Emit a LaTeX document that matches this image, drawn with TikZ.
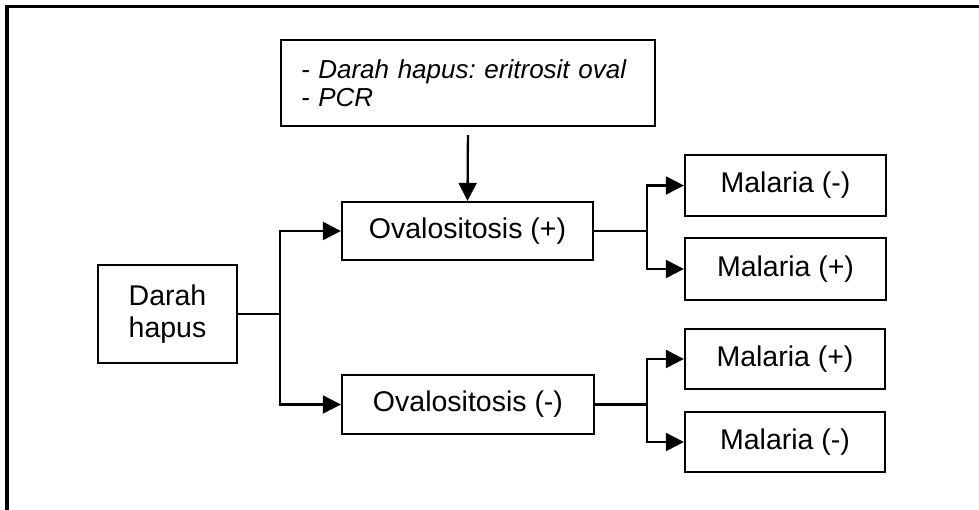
\documentclass[tikz,border=0pt]{standalone}
\usepackage{fontspec}
\setmainfont{Liberation Sans}
\usetikzlibrary{arrows.meta}
\frenchspacing

\begin{document}
\begin{tikzpicture}[x=1pt,y=-1pt,
  box/.style={draw, line width=2.3pt, inner sep=0pt, align=center,
              font=\fontsize{28.5}{32}\selectfont},
  link/.style={line width=2.3pt},
  arr/.style={line width=2.3pt, -{Triangle[length=18pt,width=18pt]}}]

  % canvas
  \useasboundingbox (0,0) rectangle (979,510);

  % outer frame: top and left edges
  \draw[line width=3.2pt] (7,510) -- (7,6.5) -- (979,6.5);

  % method box
  \node[draw, line width=2.3pt, text width=334pt, inner xsep=20pt, inner ysep=0pt,
        minimum height=86pt, align=left,
        font=\fontsize{26}{28}\selectfont\itshape]
        (tests) at (468,83) {- Darah hapus: eritrosit oval\\- PCR};

  % start
  \node[box, minimum width=139pt, minimum height=98pt] (smear) at (167.5,314)
        {Darah\\hapus};

  % ovalocytosis outcome
  \node[box, minimum width=251pt, minimum height=58pt] (ovpos) at (467.5,231)
        {Ovalositosis (+)};
  \node[box, minimum width=252pt, minimum height=59pt] (ovneg) at (468,404.5)
        {Ovalositosis (-)};

  % malaria outcome
  \node[box, minimum width=201pt, minimum height=61pt] (m1) at (785.5,185.5)
        {Malaria (-)};
  \node[box, minimum width=201pt, minimum height=62pt] (m2) at (785.5,269)
        {Malaria (+)};
  \node[box, minimum width=200pt, minimum height=60pt] (m3) at (785,359)
        {Malaria (+)};
  \node[box, minimum width=200pt, minimum height=60pt] (m4) at (785,442)
        {Malaria (-)};

  % branch points
  \coordinate (j1) at (280,314);
  \coordinate (j2) at (647,231);
  \coordinate (j3) at (647,404.5);

  % connectors
  \draw[arr, shorten <=8pt] (tests.south) -- (ovpos.north);

  \draw[link] (smear.east) -- (j1);
  \draw[arr] (j1) |- (ovpos.west);
  \draw[arr] (j1) |- (ovneg.west);

  \draw[link] (ovpos.east) -- (j2);
  \draw[arr] (j2) |- (m1.west);
  \draw[arr] (j2) |- (m2.west);

  \draw[link] (ovneg.east) -- (j3);
  \draw[arr] (j3) |- (m3.west);
  \draw[arr] (j3) |- (m4.west);
\end{tikzpicture}
\end{document}
